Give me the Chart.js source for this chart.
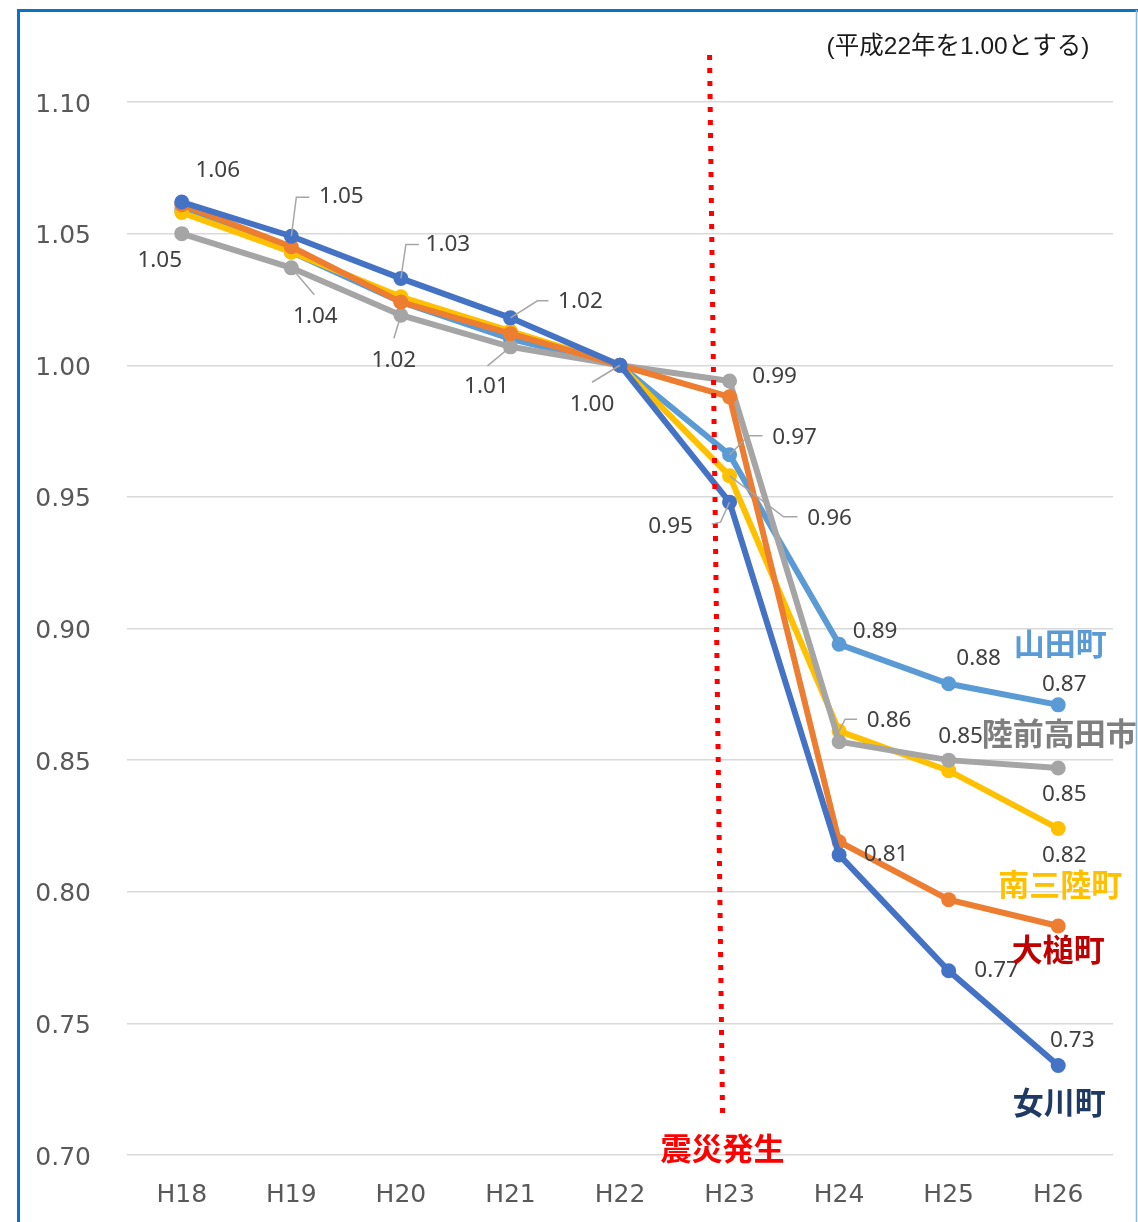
<!DOCTYPE html>
<html>
<head>
<meta charset="utf-8">
<script src="https://cdn.jsdelivr.net/npm/chart.js@4.4.1/dist/chart.umd.min.js"></script>
<style>
  body { margin: 0; background: #fff; }
  canvas { display: block; }
</style>
</head>
<body>
<canvas id="popChart" width="1138" height="1222"></canvas>
<script>
// years on the x axis
const years = ['H18', 'H19', 'H20', 'H21', 'H22', 'H23', 'H24', 'H25', 'H26'];

// population index per town (H22 = 1.00)
const onagawa = [1.062, 1.049, 1.033, 1.018, 1.000, 0.948, 0.814, 0.770, 0.734];
const otsuchi = [1.061, 1.045, 1.024, 1.012, 1.000, 0.988, 0.819, 0.797, 0.787];
const rikuzentakata = [1.050, 1.037, 1.019, 1.007, 1.000, 0.994, 0.857, 0.850, 0.847];
const minamisanriku = [1.058, 1.043, 1.026, 1.013, 1.000, 0.958, 0.861, 0.846, 0.824];
const yamada = [1.059, 1.043, 1.024, 1.010, 1.000, 0.966, 0.894, 0.879, 0.871];

// y axis range and tick step
const yMin = 0.70;
const yMax = 1.10;
const yStep = 0.05;

const labelFont = '22.5px "Noto Sans", "Open Sans", sans-serif';
const nameFont = 'bold 31px "Noto Sans CJK JP", sans-serif';

// which points get a value label, where it sits and the leader line (offsets from the point)
const onagawaLabels = [
  { i: 0, dx: 36, dy: -31 },
  { i: 1, dx: 50, dy: -40, leader: [[5, -39], [18, -39]] },
  { i: 2, dx: 47, dy: -34, leader: [[5, -34], [18, -34]] },
  { i: 3, dx: 70, dy: -16, leader: [[27, -17], [38, -17]] },
  { i: 4, dx: -28, dy: 39, leader: [[-28, 17]] },
  { i: 5, dx: -59, dy: 24, leader: [[-9, 20], [-18, 22]] },
  { i: 6, dx: 47, dy: 0 },
  { i: 7, dx: 48, dy: 0 },
  { i: 8, dx: 14, dy: -25 }
];
const rikuzentakataLabels = [
  { i: 0, dx: -22, dy: 27 },
  { i: 1, dx: 24, dy: 49, leader: [[23, 27]] },
  { i: 2, dx: -7, dy: 45, leader: [[-7, 23]] },
  { i: 3, dx: -24, dy: 40, leader: [[-23, 19]] },
  { i: 5, dx: 45, dy: -4 },
  { i: 7, dx: 12, dy: -24 },
  { i: 8, dx: 6, dy: 27 }
];
const yamadaLabels = [
  { i: 5, dx: 65, dy: -17, leader: [[19, -19], [33, -19]] },
  { i: 6, dx: 36, dy: -13 },
  { i: 7, dx: 30, dy: -25 },
  { i: 8, dx: 6, dy: -20 }
];
const minamisanrikuLabels = [
  { i: 5, dx: 100, dy: 43, leader: [[54, 41], [68, 41]] },
  { i: 6, dx: 50, dy: -11, leader: [[6, -12], [18, -12]] },
  { i: 8, dx: 6, dy: 27 }
];

function makeSeries(name, data, color, nameColor, nameOffset, labels) {
  return {
    label: name,
    data: data,
    borderColor: color,
    backgroundColor: color,
    pointBackgroundColor: color,
    borderWidth: 6,
    pointRadius: 7.5,
    pointBorderWidth: 0,
    tension: 0,
    nameColor: nameColor,
    nameOffset: nameOffset,
    valueLabels: labels
  };
}

// draws the frame, the earthquake line, value labels and town names
const annotationPlugin = {
  id: 'annotations',
  beforeDraw(chart) {
    const ctx = chart.ctx;
    ctx.save();
    ctx.fillStyle = '#ffffff';
    ctx.fillRect(0, 0, chart.width, chart.height);
    ctx.restore();
  },
  afterDraw(chart) {
    const ctx = chart.ctx;
    const xScale = chart.scales.x;
    ctx.save();

    // outer frame
    ctx.strokeStyle = '#0A72C6';
    ctx.lineWidth = 3;
    ctx.beginPath();
    ctx.moveTo(18.5, chart.height);
    ctx.lineTo(18.5, 10.5);
    ctx.lineTo(chart.width, 10.5);
    ctx.stroke();
    ctx.strokeStyle = '#8DB8E2';
    ctx.lineWidth = 1.5;
    ctx.beginPath();
    ctx.moveTo(1136.5, 10);
    ctx.lineTo(1136.5, chart.height);
    ctx.stroke();

    // earthquake marker line
    const quakeX = xScale.getPixelForValue(5);
    ctx.strokeStyle = '#FF0000';
    ctx.lineWidth = 5;
    ctx.setLineDash([5, 8]);
    ctx.beginPath();
    ctx.moveTo(quakeX - 20, 55);
    ctx.lineTo(quakeX - 7, 1115);
    ctx.stroke();
    ctx.setLineDash([]);

    ctx.fillStyle = '#FF0000';
    ctx.font = nameFont;
    ctx.textAlign = 'center';
    ctx.textBaseline = 'middle';
    ctx.fillText('震災発生', quakeX - 7, 1148);

    // note in the corner
    ctx.fillStyle = '#1a1a1a';
    ctx.font = '24.5px "Liberation Sans", "Noto Sans CJK JP", sans-serif';
    ctx.fillText('(平成22年を1.00とする)', 958, 47);

    chart.data.datasets.forEach((ds, di) => {
      const meta = chart.getDatasetMeta(di);
      (ds.valueLabels || []).forEach(l => {
        const pt = meta.data[l.i];
        if (l.leader) {
          ctx.strokeStyle = '#A6A6A6';
          ctx.lineWidth = 1.5;
          ctx.beginPath();
          ctx.moveTo(pt.x, pt.y);
          l.leader.forEach(p => ctx.lineTo(pt.x + p[0], pt.y + p[1]));
          ctx.stroke();
        }
        ctx.fillStyle = '#404040';
        ctx.font = labelFont;
        ctx.fillText(ds.data[l.i].toFixed(2), pt.x + l.dx, pt.y + l.dy);
      });
      const last = meta.data[meta.data.length - 1];
      ctx.fillStyle = ds.nameColor;
      ctx.font = nameFont;
      ctx.fillText(ds.label, last.x + ds.nameOffset[0], last.y + ds.nameOffset[1]);
    });

    ctx.restore();
  }
};

const ctx = document.getElementById('popChart').getContext('2d');
const popChart = new Chart(ctx, {
  type: 'line',
  data: {
    labels: years,
    datasets: [
      makeSeries('女川町', onagawa, '#4472C4', '#1F3864', [1, 37], onagawaLabels),
      makeSeries('大槌町', otsuchi, '#ED7D31', '#C00000', [0, 23], []),
      makeSeries('陸前高田市', rikuzentakata, '#A5A5A5', '#7F7F7F', [1, -35], rikuzentakataLabels),
      makeSeries('南三陸町', minamisanriku, '#FFC000', '#FFC000', [2, 56], minamisanrikuLabels),
      makeSeries('山田町', yamada, '#5B9BD5', '#5B9BD5', [2, -62], yamadaLabels)
    ]
  },
  options: {
    responsive: false,
    animation: false,
    layout: {
      padding: { top: 102, right: 25, left: 0, bottom: 0 }
    },
    plugins: {
      legend: { display: false },
      tooltip: { enabled: false }
    },
    scales: {
      x: {
        offset: true,
        grid: { display: false },
        border: { display: false },
        ticks: {
          color: '#595959',
          padding: 17,
          font: { family: '"DejaVu Sans", Verdana, sans-serif', size: 25 }
        },
        afterFit(scale) { scale.height = 67; }
      },
      y: {
        min: yMin,
        max: yMax,
        grid: { color: '#D9D9D9', lineWidth: 1.5, drawTicks: false },
        border: { display: false },
        ticks: {
          stepSize: yStep,
          color: '#595959',
          padding: 36,
          labelOffset: 3,
          font: { family: '"DejaVu Sans", Verdana, sans-serif', size: 25 },
          callback: v => v.toFixed(2)
        },
        afterFit(scale) { scale.width = 127; }
      }
    }
  },
  plugins: [annotationPlugin]
});
</script>
</body>
</html>
